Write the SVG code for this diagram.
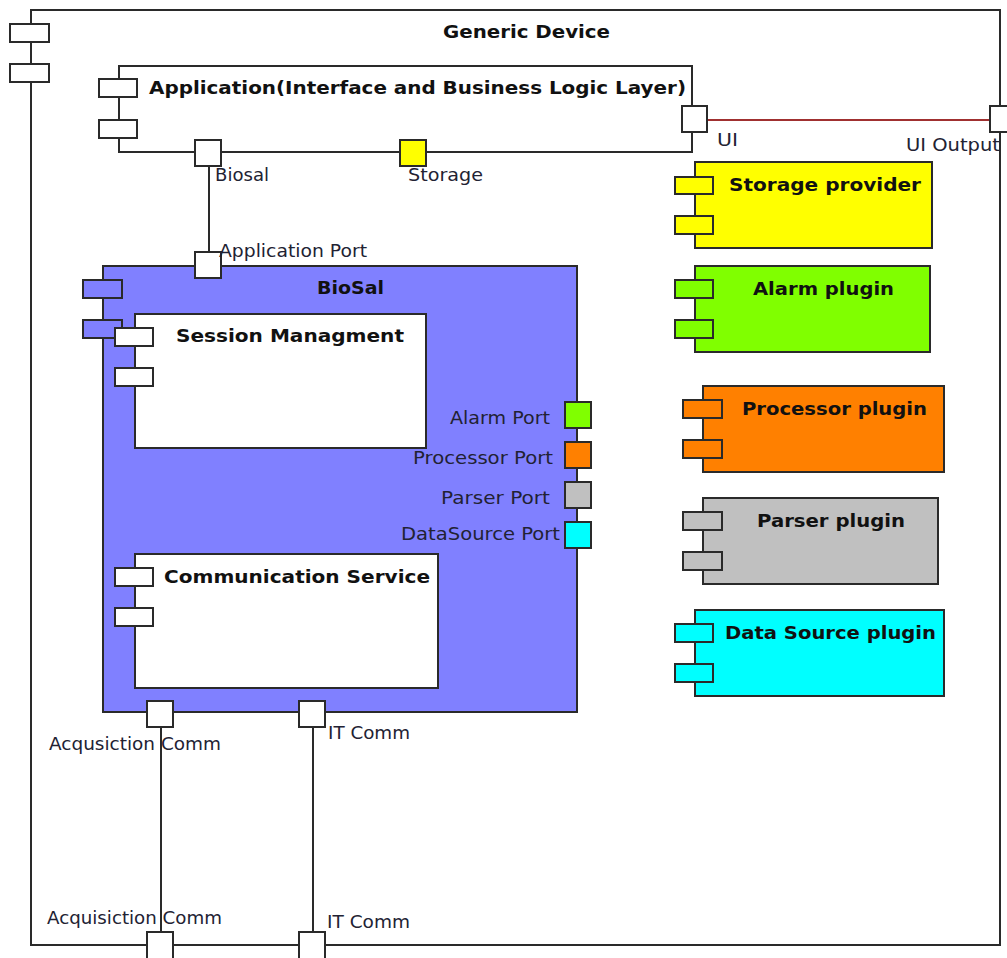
<svg xmlns="http://www.w3.org/2000/svg" width="1007" height="958" viewBox="0 0 1007 958">
<style>
.box{stroke:#2a2a2a;stroke-width:2}
.ln{stroke:#2a2a2a;stroke-width:2;fill:none}
.t{font-family:"DejaVu Sans",Verdana,sans-serif;font-weight:bold;font-size:18px;fill:#111}
.l{font-family:"DejaVu Sans",Verdana,sans-serif;font-size:17px;fill:#222233}
</style>
<rect width="1007" height="958" fill="#ffffff"/>
<g id="generic-device">
<rect class="box" x="31" y="10" width="969" height="935" fill="#ffffff"/>
<rect class="box" x="10" y="24" width="39" height="18" fill="#ffffff"/>
<rect class="box" x="10" y="64" width="39" height="18" fill="#ffffff"/>
<text class="t" x="443" y="38" textLength="167" lengthAdjust="spacingAndGlyphs">Generic Device</text>
</g>
<g id="application">
<rect class="box" x="119" y="66" width="573" height="86" fill="#ffffff"/>
<rect class="box" x="99" y="79" width="38" height="18" fill="#ffffff"/>
<rect class="box" x="99" y="120" width="38" height="18" fill="#ffffff"/>
<text class="t" x="149" y="94" textLength="537" lengthAdjust="spacingAndGlyphs">Application(Interface and Business Logic Layer)</text>
</g>
<g id="storage-provider">
<rect class="box" x="695" y="162" width="237" height="86" fill="#ffff00"/>
<rect class="box" x="675" y="177" width="38" height="17" fill="#ffff00"/>
<rect class="box" x="675" y="216" width="38" height="18" fill="#ffff00"/>
<text class="t" x="729" y="191" textLength="192" lengthAdjust="spacingAndGlyphs">Storage provider</text>
</g>
<g id="alarm-plugin">
<rect class="box" x="695" y="266" width="235" height="86" fill="#80ff00"/>
<rect class="box" x="675" y="280" width="38" height="18" fill="#80ff00"/>
<rect class="box" x="675" y="320" width="38" height="18" fill="#80ff00"/>
<text class="t" x="753" y="295" textLength="141" lengthAdjust="spacingAndGlyphs">Alarm plugin</text>
</g>
<g id="processor-plugin">
<rect class="box" x="703" y="386" width="241" height="86" fill="#ff8000"/>
<rect class="box" x="683" y="400" width="39" height="18" fill="#ff8000"/>
<rect class="box" x="683" y="440" width="39" height="18" fill="#ff8000"/>
<text class="t" x="742" y="415" textLength="185" lengthAdjust="spacingAndGlyphs">Processor plugin</text>
</g>
<g id="parser-plugin">
<rect class="box" x="703" y="498" width="235" height="86" fill="#c0c0c0"/>
<rect class="box" x="683" y="512" width="39" height="18" fill="#c0c0c0"/>
<rect class="box" x="683" y="552" width="39" height="18" fill="#c0c0c0"/>
<text class="t" x="757" y="527" textLength="148" lengthAdjust="spacingAndGlyphs">Parser plugin</text>
</g>
<g id="data-source-plugin">
<rect class="box" x="695" y="610" width="249" height="86" fill="#00ffff"/>
<rect class="box" x="675" y="624" width="38" height="18" fill="#00ffff"/>
<rect class="box" x="675" y="664" width="38" height="18" fill="#00ffff"/>
<text class="t" x="725" y="639" textLength="211" lengthAdjust="spacingAndGlyphs">Data Source plugin</text>
</g>
<g id="biosal">
<rect class="box" x="103" y="266" width="474" height="446" fill="#8080ff"/>
<rect class="box" x="83" y="280" width="39" height="18" fill="#8080ff"/>
<rect class="box" x="83" y="320" width="39" height="18" fill="#8080ff"/>
<text class="t" x="317" y="294" textLength="67" lengthAdjust="spacingAndGlyphs">BioSal</text>
</g>
<g id="session-managment">
<rect class="box" x="135" y="314" width="291" height="134" fill="#ffffff"/>
<rect class="box" x="115" y="328" width="38" height="18" fill="#ffffff"/>
<rect class="box" x="115" y="368" width="38" height="18" fill="#ffffff"/>
<text class="t" x="176" y="342" textLength="228" lengthAdjust="spacingAndGlyphs">Session Managment</text>
</g>
<g id="communication-service">
<rect class="box" x="135" y="554" width="303" height="134" fill="#ffffff"/>
<rect class="box" x="115" y="568" width="38" height="18" fill="#ffffff"/>
<rect class="box" x="115" y="608" width="38" height="18" fill="#ffffff"/>
<text class="t" x="164" y="583" textLength="266" lengthAdjust="spacingAndGlyphs">Communication Service</text>
</g>
<g id="connectors">
<line class="ln" x1="209" y1="166" x2="209" y2="252"/>
<line x1="707" y1="120" x2="990" y2="120" stroke="#a03030" stroke-width="2"/>
<line class="ln" x1="161" y1="727" x2="161" y2="932"/>
<line class="ln" x1="313" y1="727" x2="313" y2="932"/>
</g>
<g id="ports">
<rect class="box" x="195" y="140" width="26" height="26" fill="#ffffff"/>
<rect class="box" x="400" y="140" width="26" height="26" fill="#ffff00"/>
<rect class="box" x="682" y="106" width="25" height="26" fill="#ffffff"/>
<rect class="box" x="990" y="106" width="26" height="26" fill="#ffffff"/>
<rect class="box" x="195" y="252" width="26" height="26" fill="#ffffff"/>
<rect class="box" x="565" y="402" width="26" height="26" fill="#80ff00"/>
<rect class="box" x="565" y="442" width="26" height="26" fill="#ff8000"/>
<rect class="box" x="565" y="482" width="26" height="26" fill="#c0c0c0"/>
<rect class="box" x="565" y="522" width="26" height="26" fill="#00ffff"/>
<rect class="box" x="147" y="701" width="26" height="26" fill="#ffffff"/>
<rect class="box" x="299" y="701" width="26" height="26" fill="#ffffff"/>
<rect class="box" x="147" y="932" width="26" height="30" fill="#ffffff"/>
<rect class="box" x="299" y="932" width="26" height="30" fill="#ffffff"/>
</g>
<g id="labels">
<text class="l" x="215" y="181" textLength="54" lengthAdjust="spacingAndGlyphs">Biosal</text>
<text class="l" x="408" y="181" textLength="75" lengthAdjust="spacingAndGlyphs">Storage</text>
<text class="l" x="219" y="257" textLength="148" lengthAdjust="spacingAndGlyphs">Application Port</text>
<text class="l" x="717" y="146" textLength="21" lengthAdjust="spacingAndGlyphs">UI</text>
<text class="l" x="906" y="151" textLength="94" lengthAdjust="spacingAndGlyphs">UI Output</text>
<text class="l" x="450" y="424" textLength="100" lengthAdjust="spacingAndGlyphs">Alarm Port</text>
<text class="l" x="413" y="464" textLength="140" lengthAdjust="spacingAndGlyphs">Processor Port</text>
<text class="l" x="441" y="504" textLength="109" lengthAdjust="spacingAndGlyphs">Parser Port</text>
<text class="l" x="401" y="540" textLength="159" lengthAdjust="spacingAndGlyphs">DataSource Port</text>
<text class="l" x="49" y="750" textLength="172" lengthAdjust="spacingAndGlyphs">Acqusiction Comm</text>
<text class="l" x="328" y="739" textLength="82" lengthAdjust="spacingAndGlyphs">IT Comm</text>
<text class="l" x="47" y="924" textLength="175" lengthAdjust="spacingAndGlyphs">Acquisiction Comm</text>
<text class="l" x="327" y="928" textLength="83" lengthAdjust="spacingAndGlyphs">IT Comm</text>
</g>
</svg>
